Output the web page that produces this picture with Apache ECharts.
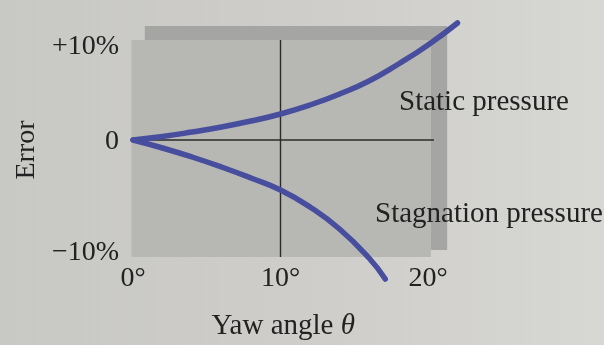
<!DOCTYPE html>
<html>
<head>
<meta charset="utf-8">
<script src="https://cdn.jsdelivr.net/npm/echarts@6/dist/echarts.min.js"></script>
<style>
  html, body { margin: 0; padding: 0; background: #cfcfcc; }
  #chart { width: 604px; height: 345px; }
</style>
</head>
<body>
<div id="chart"></div>
<script>
// Yaw angle (degrees) and the resulting pressure error (%)
const staticAngles = [0, 2, 4, 6, 8, 10, 12, 14, 16, 18, 20, 22];
const staticError = [0, 0.35, 0.8, 1.3, 1.9, 2.6, 3.5, 4.6, 5.9, 7.6, 9.5, 11.7];
const stagnationAngles = [0, 2, 4, 6, 8, 10, 12, 14, 16, 17.1];
const stagnationError = [0, -0.8, -1.7, -2.7, -3.8, -5.0, -6.7, -8.9, -11.8, -13.9];

// Axis ticks
const angleTicks = [0, 10, 20];
const errorTicks = [-10, 0, 10];

// Shaded panel behind the plot: [x1, y1, x2, y2] in data units
const panelMain = [[-0.1, 10, 20.2, -11.7]];
const panelShadow = [[0.8, 11.4, 21.3, 10], [20.2, 10, 21.3, -11.0]];

// Reference cross-hair: zero error line and 10° line
const zeroLine = [[0, 0, 20.4, 0]];
const tenDegLine = [[10, 10, 10, -11.7]];

const serif = "'Liberation Serif', 'DejaVu Serif', serif";
const ink = '#222222';
const curveColor = '#484e9e';

function rectSeries(data, color, z) {
  return {
    type: 'custom',
    data: data,
    z: z,
    silent: true,
    renderItem: function (params, api) {
      const p1 = api.coord([api.value(0), api.value(1)]);
      const p2 = api.coord([api.value(2), api.value(3)]);
      return {
        type: 'rect',
        shape: {
          x: Math.min(p1[0], p2[0]), y: Math.min(p1[1], p2[1]),
          width: Math.abs(p2[0] - p1[0]), height: Math.abs(p2[1] - p1[1])
        },
        style: { fill: color }
      };
    }
  };
}

function segmentSeries(data, z) {
  return {
    type: 'custom',
    data: data,
    z: z,
    silent: true,
    renderItem: function (params, api) {
      const p1 = api.coord([api.value(0), api.value(1)]);
      const p2 = api.coord([api.value(2), api.value(3)]);
      return {
        type: 'line',
        shape: { x1: p1[0], y1: p1[1], x2: p2[0], y2: p2[1] },
        style: { stroke: '#2a2a2a', lineWidth: 1.4 }
      };
    }
  };
}

const chart = echarts.init(document.getElementById('chart'));
chart.setOption({
  backgroundColor: {
    type: 'linear', x: 0, y: 0, x2: 1, y2: 0,
    colorStops: [
      { offset: 0, color: '#c8c8c5' },
      { offset: 0.5, color: '#cecdca' },
      { offset: 1, color: '#d7d7d4' }
    ]
  },
  animation: false,
  // x spans 0–22° so the static-pressure curve can run past 20°
  grid: { left: 133, top: 40, width: 324.5, height: 200, containLabel: false, outerBoundsMode: 'none' },
  xAxis: {
    type: 'value',
    min: 0, max: 22, interval: 10,
    axisLine: { show: false },
    axisTick: { show: false },
    splitLine: { show: false },
    axisLabel: {
      margin: 25,
      showMaxLabel: false,
      fontFamily: serif, fontSize: 28, color: ink,
      formatter: function (v) { return angleTicks.indexOf(v) >= 0 ? v + '°' : ''; }
    },
    name: '{t|Yaw angle }{i|θ}',
    nameLocation: 'middle',
    nameGap: 72,
    nameTextStyle: {
      padding: [0, 24, 0, 0],
      rich: {
        t: { fontFamily: serif, fontSize: 29, color: ink },
        i: { fontFamily: serif, fontSize: 29, color: ink, fontStyle: 'italic' }
      }
    }
  },
  yAxis: {
    type: 'value',
    min: -10, max: 10, interval: 10,
    axisLine: { show: false },
    axisTick: { show: false },
    splitLine: { show: false },
    axisLabel: {
      margin: 14,
      fontFamily: serif, fontSize: 28, color: ink,
      formatter: function (v) {
        if (errorTicks.indexOf(v) < 0) return '';
        if (v > 0) return '{up|+' + v + '%}';
        if (v < 0) return '{dn|−' + Math.abs(v) + '%}';
        return '{z|0}';
      },
      rich: {
        up: { fontFamily: serif, fontSize: 28, color: ink, padding: [14, 0, 0, 0] },
        dn: { fontFamily: serif, fontSize: 28, color: ink, padding: [26, 0, 0, 0] },
        z: { fontFamily: serif, fontSize: 28, color: ink, padding: [4, 0, 0, 0] }
      }
    },
    name: 'Error',
    nameLocation: 'middle',
    nameRotate: 90,
    nameGap: 80,
    nameTextStyle: { fontFamily: serif, fontSize: 28, color: ink, padding: [0, 0, 0, -20] }
  },
  graphic: [
    {
      type: 'text', left: 399, top: 88, z: 10,
      style: { text: 'Static pressure', font: '29px ' + serif, fill: ink }
    },
    {
      type: 'text', left: 375, top: 200, z: 10,
      style: { text: 'Stagnation pressure', font: '29px ' + serif, fill: ink }
    }
  ],
  series: [
    rectSeries(panelShadow, '#a5a5a3', 1),
    rectSeries(panelMain, '#b7b7b4', 2),
    segmentSeries(zeroLine, 3),
    segmentSeries(tenDegLine, 3),
    {
      name: 'Static pressure',
      type: 'line',
      data: staticAngles.map(function (a, i) { return [a, staticError[i]]; }),
      smooth: 0.5,
      clip: false,
      showSymbol: false,
      z: 5,
      lineStyle: { color: curveColor, width: 5.5, cap: 'round' }
    },
    {
      name: 'Stagnation pressure',
      type: 'line',
      data: stagnationAngles.map(function (a, i) { return [a, stagnationError[i]]; }),
      smooth: 0.5,
      clip: false,
      showSymbol: false,
      z: 5,
      lineStyle: { color: curveColor, width: 5.5, cap: 'round' }
    }
  ]
});
</script>
</body>
</html>
